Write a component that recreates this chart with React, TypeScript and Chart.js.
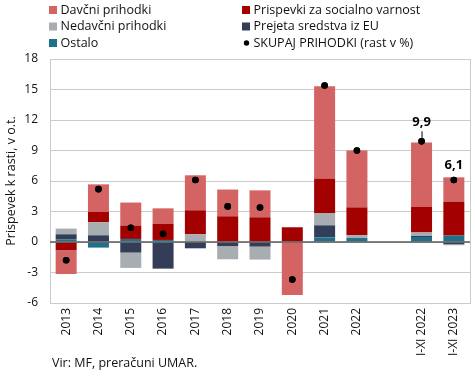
import React, { useEffect, useRef } from 'react';
import { Chart, registerables } from 'chart.js';

Chart.register(...registerables);

const categories = ['2013', '2014', '2015', '2016', '2017', '2018', '2019', '2020', '2021', '2022', '', 'I-XI 2022', 'I-XI 2023'];

const davcni = [-2.35, 2.72, 2.26, 1.54, 3.44, 2.63, 2.65, -5.21, 9.1, 5.58, null, 6.35, 2.39];
const prispevki = [-0.8, 1.01, 1.32, 1.57, 2.36, 2.53, 2.43, 1.45, 3.38, 2.75, null, 2.5, 3.34];
const nedavcni = [0.56, 1.28, -1.51, 0, 0.76, -1.3, -1.28, 0, 1.21, 0.27, null, 0.35, -0.1];
const eu = [0.52, 0.66, -1.04, -2.62, -0.62, -0.4, -0.45, 0, 1.18, 0, null, 0.1, -0.22];
const ostalo = [0.24, -0.55, 0.3, 0.2, 0, 0, 0, 0, 0.46, 0.39, null, 0.49, 0.63];
const skupaj = [-1.8, 5.2, 1.4, 0.8, 6.1, 3.5, 3.4, -3.7, 15.4, 9.0, null, 9.9, 6.1];
const skupajLabels = ['', '', '', '', '', '', '', '', '', '', '', '9,9', '6,1'];

const yTicksMin = -6;
const yTicksMax = 18;
const yTickStep = 3;

const FONT = "'Open Sans', 'DejaVu Sans', sans-serif";

const C_DAVCNI = '#D46363';
const C_PRISPEVKI = '#A30000';
const C_NEDAVCNI = '#A8ADB2';
const C_EU = '#333D57';
const C_OSTALO = '#1F708A';
const C_GRID = '#CBCBCB';

export default function App() {
  const ref = useRef<HTMLCanvasElement>(null);

  useEffect(() => {
    const extras = {
      id: 'extras',
      afterDatasetsDraw(chart: any) {
        const ctx = chart.ctx;
        const area = chart.chartArea;
        const y = chart.scales.y;
        ctx.save();
        // right border
        ctx.strokeStyle = C_GRID;
        ctx.lineWidth = 1;
        ctx.beginPath();
        ctx.moveTo(Math.round(area.right) + 0.5, area.top);
        ctx.lineTo(Math.round(area.right) + 0.5, area.bottom);
        ctx.stroke();
        // zero line
        const y0 = y.getPixelForValue(0);
        ctx.strokeStyle = '#5A5A5A';
        ctx.lineWidth = 1.5;
        ctx.beginPath();
        ctx.moveTo(area.left, y0);
        ctx.lineTo(area.right, y0);
        ctx.stroke();
        // redraw points on top
        const lineIdx = chart.data.datasets.length - 1;
        const meta = chart.getDatasetMeta(lineIdx);
        ctx.fillStyle = '#000';
        meta.data.forEach((pt: any, i: number) => {
          if (skupaj[i] == null) return;
          ctx.beginPath();
          ctx.arc(pt.x, pt.y, 3.3, 0, Math.PI * 2);
          ctx.fill();
        });
        // value labels
        ctx.font = `bold 13px ${FONT}`;
        ctx.textAlign = 'center';
        ctx.textBaseline = 'middle';
        meta.data.forEach((pt: any, i: number) => {
          const t = skupajLabels[i];
          if (!t) return;
          const leader = i === 11;
          if (leader) {
            ctx.strokeStyle = '#000';
            ctx.lineWidth = 1;
            ctx.beginPath();
            ctx.moveTo(pt.x + 0.5, pt.y - 1);
            ctx.lineTo(pt.x + 0.5, pt.y - 10);
            ctx.stroke();
            ctx.fillText(t, pt.x, pt.y - 19);
          } else {
            ctx.fillText(t, pt.x, pt.y - 15);
          }
        });
        // legend
        const legendOrder = [4, 3, 2, 1, 0, 5];
        const colX = [49, 242];
        const rowY = [10, 26.5, 43];
        ctx.font = `12.5px ${FONT}`;
        ctx.textAlign = 'left';
        ctx.textBaseline = 'middle';
        legendOrder.forEach((di, k) => {
          const ds = chart.data.datasets[di];
          const x = colX[k % 2];
          const yy = rowY[Math.floor(k / 2)];
          if (ds.type === 'line') {
            ctx.fillStyle = '#000';
            ctx.beginPath();
            ctx.arc(x + 4.5, yy, 2.7, 0, Math.PI * 2);
            ctx.fill();
          } else {
            ctx.fillStyle = ds.backgroundColor;
            ctx.fillRect(x, yy - 4, 8, 8);
          }
          ctx.fillStyle = '#111';
          ctx.fillText(ds.label, x + 11.5, yy);
        });
        // source
        ctx.font = `12.5px ${FONT}`;
        ctx.fillStyle = '#111';
        ctx.fillText('Vir: MF, preračuni UMAR.', 52, 363);
        ctx.restore();
      },
    };

    const chart = new Chart(ref.current as HTMLCanvasElement, {
      type: 'bar',
      data: {
        labels: categories,
        datasets: [
          { label: 'Ostalo', data: ostalo, backgroundColor: C_OSTALO, stack: 's' },
          { label: 'Prejeta sredstva iz EU', data: eu, backgroundColor: C_EU, stack: 's' },
          { label: 'Nedavčni prihodki', data: nedavcni, backgroundColor: C_NEDAVCNI, stack: 's' },
          { label: 'Prispevki za socialno varnost', data: prispevki, backgroundColor: C_PRISPEVKI, stack: 's' },
          { label: 'Davčni prihodki', data: davcni, backgroundColor: C_DAVCNI, stack: 's' },
          {
            type: 'line',
            label: 'SKUPAJ PRIHODKI (rast v %)',
            data: skupaj,
            stack: 'total',
            showLine: false,
            pointRadius: 3.3,
            pointBackgroundColor: '#000',
            pointBorderWidth: 0,
            borderColor: '#000',
            backgroundColor: '#000',
            order: -1,
          } as any,
        ],
      },
      options: {
        responsive: false,
        animation: false,
        events: [],
        layout: { padding: { top: 59, right: 5, left: 0, bottom: 0 } },
        plugins: { legend: { display: false }, tooltip: { enabled: false } },
        datasets: { bar: { categoryPercentage: 1, barPercentage: 0.65, borderWidth: 0 } },
        scales: {
          x: {
            stacked: true,
            grid: { display: false, drawTicks: false },
            border: { display: true, color: C_GRID },
            ticks: {
              autoSkip: false,
              minRotation: 90,
              maxRotation: 90,
              padding: 5,
              color: '#111',
              font: { family: FONT, size: 12 },
            },
            afterFit: (s: any) => {
              s.height = 89;
            },
          },
          y: {
            stacked: true,
            min: yTicksMin,
            max: yTicksMax,
            ticks: {
              stepSize: yTickStep,
              padding: 12,
              color: '#111',
              font: { family: FONT, size: 12 },
            },
            grid: { color: C_GRID, drawTicks: false, lineWidth: 1 },
            border: { display: true, color: C_GRID },
            title: {
              display: true,
              text: 'Prispevek k rasti, v o.t.',
              color: '#111',
              font: { family: FONT, size: 12.5 },
              padding: { top: 4, bottom: 0 },
            },
            afterFit: (s: any) => {
              s.width = 50;
            },
          },
        },
      } as any,
      plugins: [extras],
    });
    return () => chart.destroy();
  }, []);

  return (
    <div style={{ position: 'fixed', left: 0, top: 0, width: 475, height: 392, background: '#fff' }}>
      <canvas ref={ref} width={475} height={392} style={{ display: 'block' }} />
    </div>
  );
}
